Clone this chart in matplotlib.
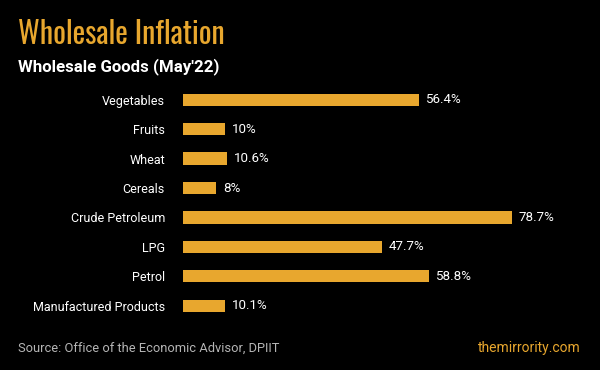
import matplotlib.pyplot as plt

categories = ["Vegetables", "Fruits", "Wheat", "Cereals", "Crude Petroleum",
              "LPG", "Petrol", "Manufactured Products"]
values = [56.4, 10, 10.6, 8, 78.7, 47.7, 58.8, 10.1]
value_labels = ["56.4%", "10%", "10.6%", "8%", "78.7%", "47.7%", "58.8%", "10.1%"]

orange = "#E8A72E"
plt.rcParams['font.family'] = ['Roboto', 'DejaVu Sans']

fig = plt.figure(figsize=(6, 3.7), dpi=100, facecolor="black")
ax = fig.add_axes([0.305, 0.134, 0.645, 0.636], facecolor="black")

ax.barh(range(len(values)), values, height=0.42, color=orange)
for i, (v, lab) in enumerate(zip(values, value_labels)):
    ax.text(v + 1.6, i, lab, color="white", va="center", ha="left", fontsize=9.6)

ax.set_xlim(0, 92.6)
ax.set_ylim(len(values) - 0.5, -0.5)
ax.set_yticks(range(len(values)))
ax.set_yticklabels(categories, color="white", fontsize=9.0)
ax.tick_params(axis="y", length=0, pad=13)
ax.set_xticks([])
for s in ax.spines.values():
    s.set_visible(False)

# titles
fig.text(0.03, 0.88, "Wholesale Inflation", color=orange, fontsize=21.5,
         fontweight="semibold", family=["Oswald", "Roboto Condensed", "DejaVu Sans"],
         va="baseline")
fig.text(0.03, 0.806, "Wholesale Goods (May'22)", color="white", fontsize=12.2,
         fontweight="bold", va="baseline")

# footer
fig.text(0.03, 0.048, "Source: Office of the Economic Advisor, DPIIT",
         color="#b5b5b5", fontsize=9.3, va="baseline")
fig.text(0.968, 0.048, "themirrority.com", color=orange, fontsize=10,
         ha="right", va="baseline")

fig.savefig("out.png", dpi=100, facecolor="black")
